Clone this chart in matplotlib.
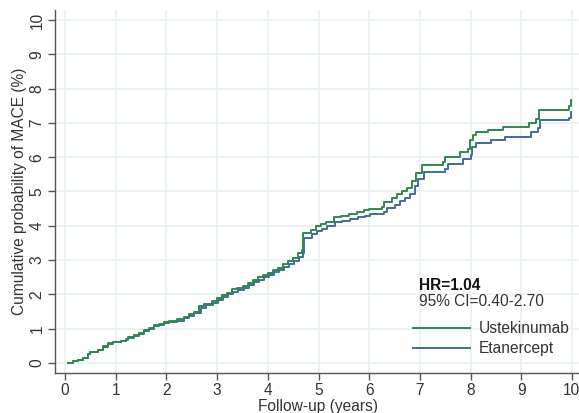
import matplotlib
matplotlib.use("Agg")
import matplotlib.pyplot as plt

plt.rcParams["font.family"] = ["Liberation Sans", "DejaVu Sans"]

# Cumulative incidence of MACE (%) by follow-up time (years), step changes
ust_time = [0.05, 0.15, 0.25, 0.35, 0.45, 0.5, 0.65, 0.75, 0.85, 0.95,
            1.1, 1.2, 1.25, 1.35, 1.45, 1.55, 1.65, 1.75, 1.85, 1.95,
            2.05, 2.2, 2.35, 2.45, 2.55, 2.65, 2.75, 2.9, 3.0, 3.1,
            3.2, 3.3, 3.4, 3.5, 3.6, 3.7, 3.8, 3.9, 4.0, 4.1,
            4.2, 4.3, 4.4, 4.5, 4.6, 4.68, 4.7, 4.85, 4.95, 5.05,
            5.15, 5.3, 5.45, 5.6, 5.75, 5.9, 6.0, 6.25, 6.3, 6.45,
            6.55, 6.65, 6.75, 6.85, 6.92, 7.05, 7.45, 7.5, 7.8, 7.95,
            7.98, 8.05, 8.1, 8.35, 8.65, 9.15, 9.3, 9.35, 9.95, 9.98]
ust_cum = [0.0, 0.05, 0.1, 0.15, 0.25, 0.33, 0.38, 0.5, 0.57, 0.62,
           0.65, 0.7, 0.76, 0.82, 0.88, 0.95, 1.02, 1.1, 1.15, 1.2,
           1.23, 1.27, 1.35, 1.42, 1.5, 1.65, 1.73, 1.8, 1.9, 1.97,
           2.05, 2.15, 2.18, 2.25, 2.33, 2.42, 2.5, 2.58, 2.63, 2.72,
           2.78, 2.88, 2.97, 3.05, 3.2, 3.3, 3.8, 3.88, 3.98, 4.05,
           4.12, 4.25, 4.3, 4.35, 4.4, 4.45, 4.5, 4.55, 4.7, 4.8,
           4.92, 5.0, 5.1, 5.3, 5.55, 5.77, 5.85, 6.0, 6.15, 6.25,
           6.5, 6.65, 6.72, 6.8, 6.88, 7.0, 7.12, 7.38, 7.5, 7.67]

eta_time = [0.05, 0.15, 0.25, 0.35, 0.45, 0.5, 0.65, 0.75, 0.85, 0.95,
            1.1, 1.2, 1.25, 1.35, 1.45, 1.55, 1.65, 1.75, 1.85, 1.95,
            2.05, 2.2, 2.35, 2.45, 2.55, 2.68, 2.78, 2.92, 3.02, 3.12,
            3.22, 3.32, 3.42, 3.52, 3.62, 3.72, 3.82, 3.92, 4.02, 4.12,
            4.22, 4.32, 4.42, 4.52, 4.62, 4.7, 4.72, 4.87, 4.97, 5.07,
            5.17, 5.32, 5.47, 5.62, 5.77, 5.92, 6.02, 6.3, 6.35, 6.5,
            6.6, 6.7, 6.8, 6.9, 6.97, 7.08, 7.5, 7.55, 7.85, 8.0,
            8.03, 8.1, 8.4, 8.68, 9.2, 9.33, 9.38, 9.95, 9.98]
eta_cum = [0.0, 0.05, 0.1, 0.15, 0.25, 0.32, 0.37, 0.48, 0.55, 0.6,
           0.63, 0.68, 0.74, 0.8, 0.86, 0.93, 1.0, 1.07, 1.12, 1.17,
           1.2, 1.24, 1.31, 1.38, 1.46, 1.6, 1.68, 1.75, 1.84, 1.92,
           2.0, 2.08, 2.12, 2.19, 2.27, 2.35, 2.43, 2.5, 2.56, 2.64,
           2.7, 2.8, 2.88, 2.96, 3.08, 3.2, 3.65, 3.75, 3.85, 3.92,
           3.98, 4.1, 4.15, 4.2, 4.25, 4.3, 4.33, 4.4, 4.52, 4.62,
           4.72, 4.82, 4.92, 5.15, 5.35, 5.57, 5.67, 5.8, 5.95, 6.05,
           6.3, 6.42, 6.5, 6.6, 6.72, 6.85, 7.08, 7.15, 7.32]

group_labels = ["Ustekinumab", "Etanercept"]
hr_text = "HR=1.04"
ci_text = "95% CI=0.40-2.70"
x_ticks = list(range(0, 11))
y_ticks = list(range(0, 11))

green = "#2f8a48"
blue = "#3f6c98"
text_col = "#333333"
axis_col = "#555555"
grid_col = "#e6eff1"
fs = 11.2

W, H = 579, 413
fig = plt.figure(figsize=(W / 100, H / 100), dpi=100)
fig.patch.set_facecolor("white")
ax = fig.add_axes([55 / W, (H - 373) / H, (W - 55) / W, (373 - 10) / H])

ax.step(ust_time, ust_cum, where="post", color=green, lw=1.4,
        label=group_labels[0], zorder=3)
ax.step(eta_time, eta_cum, where="post", color=blue, lw=1.4,
        label=group_labels[1], zorder=2)

ax.set_xlim(-0.2, 10.14)
ax.set_ylim(-0.29, 10.29)
ax.set_xticks(x_ticks)
ax.set_yticks(y_ticks)
ax.grid(True, color=grid_col, lw=1.1, zorder=0)
ax.set_axisbelow(True)

for side in ("top", "right"):
    ax.spines[side].set_visible(False)
for side in ("left", "bottom"):
    ax.spines[side].set_color(axis_col)
    ax.spines[side].set_linewidth(1.0)

ax.tick_params(axis="both", direction="out", length=5, width=1,
               color=axis_col, labelsize=fs, labelcolor=text_col, pad=2.5)
for lab in ax.get_yticklabels():
    lab.set_rotation(90)
    lab.set_verticalalignment("center")

fig.text(318 / W, 1 - 411 / H, "Follow-up (years)", ha="center",
         va="baseline", fontsize=fs, color=text_col)
fig.text(20 / W, 1 - ((373 + 10) / 2) / H,
         "Cumulative probability of MACE (%)", rotation=90,
         ha="center", va="center", fontsize=fs, color=text_col)

fig.text(419 / W, 1 - 286 / H, hr_text, ha="left", va="center",
         fontsize=fs, fontweight="bold", color="#111111")
fig.text(419 / W, 1 - 302 / H, ci_text, ha="left", va="center",
         fontsize=fs, color=text_col)

ax.legend(loc="upper left", bbox_to_anchor=(413 / W, 1 - 321 / H),
          bbox_transform=fig.transFigure, frameon=False, fontsize=fs,
          handlelength=3.65, handletextpad=0.58, labelspacing=0.35,
          borderpad=0, borderaxespad=0, labelcolor=text_col)

fig.savefig("out.png", dpi=100, facecolor="white")
